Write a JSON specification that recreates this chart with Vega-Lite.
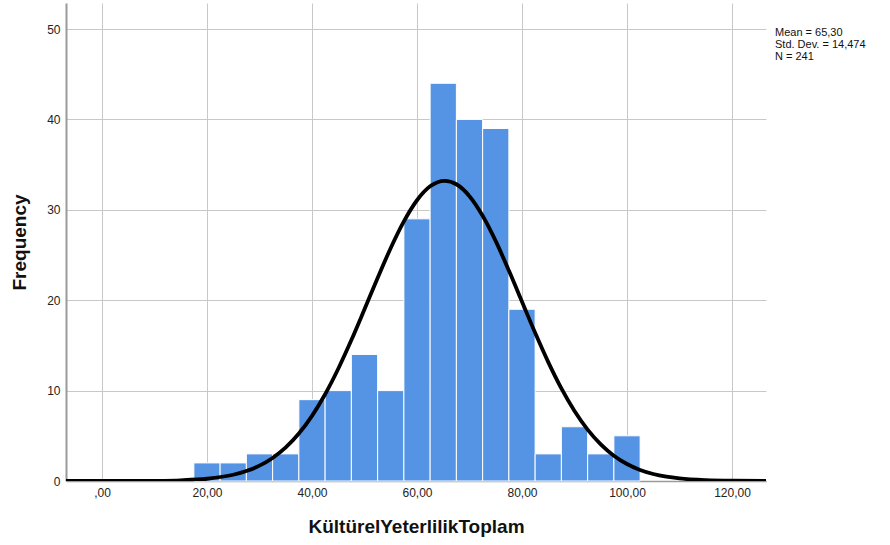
{
  "$schema": "https://vega.github.io/schema/vega-lite/v6.json",
  "width": 700,
  "height": 478,
  "autosize": {"type": "none"},
  "padding": {"left": 66, "top": 3, "right": 124, "bottom": 64},
  "background": "white",
  "config": {"view": {"stroke": null}, "font": "Liberation Sans"},
  "datasets": {
    "bins": [
      {"start": 17.5, "end": 22.5, "count": 2},
      {"start": 22.5, "end": 27.5, "count": 2},
      {"start": 27.5, "end": 32.5, "count": 3},
      {"start": 32.5, "end": 37.5, "count": 3},
      {"start": 37.5, "end": 42.5, "count": 9},
      {"start": 42.5, "end": 47.5, "count": 10},
      {"start": 47.5, "end": 52.5, "count": 14},
      {"start": 52.5, "end": 57.5, "count": 10},
      {"start": 57.5, "end": 62.5, "count": 29},
      {"start": 62.5, "end": 67.5, "count": 44},
      {"start": 67.5, "end": 72.5, "count": 40},
      {"start": 72.5, "end": 77.5, "count": 39},
      {"start": 77.5, "end": 82.5, "count": 19},
      {"start": 82.5, "end": 87.5, "count": 3},
      {"start": 87.5, "end": 92.5, "count": 6},
      {"start": 92.5, "end": 97.5, "count": 3},
      {"start": 97.5, "end": 102.5, "count": 5}
    ],
    "curve": [
      {"x": -6.86, "y": 0},
      {"x": 0, "y": 0.001},
      {"x": 5, "y": 0.006},
      {"x": 10, "y": 0.022},
      {"x": 15, "y": 0.079},
      {"x": 20, "y": 0.248},
      {"x": 25, "y": 0.689},
      {"x": 27.5, "y": 1.10},
      {"x": 30, "y": 1.697},
      {"x": 32.5, "y": 2.55},
      {"x": 35, "y": 3.713},
      {"x": 37.5, "y": 5.25},
      {"x": 40, "y": 7.21},
      {"x": 42.5, "y": 9.60},
      {"x": 45, "y": 12.42},
      {"x": 47.5, "y": 15.59},
      {"x": 50, "y": 19.00},
      {"x": 52.5, "y": 22.46},
      {"x": 55, "y": 25.78},
      {"x": 57.5, "y": 28.72},
      {"x": 60, "y": 31.06},
      {"x": 62.5, "y": 32.60},
      {"x": 65.3, "y": 33.21},
      {"x": 67.5, "y": 32.83},
      {"x": 70, "y": 31.51},
      {"x": 72.5, "y": 29.34},
      {"x": 75, "y": 26.53},
      {"x": 77.5, "y": 23.28},
      {"x": 80, "y": 19.83},
      {"x": 82.5, "y": 16.39},
      {"x": 85, "y": 13.15},
      {"x": 87.5, "y": 10.24},
      {"x": 90, "y": 7.74},
      {"x": 92.5, "y": 5.68},
      {"x": 95, "y": 4.05},
      {"x": 97.5, "y": 2.80},
      {"x": 100, "y": 1.876},
      {"x": 102.5, "y": 1.22},
      {"x": 105, "y": 0.772},
      {"x": 107.5, "y": 0.474},
      {"x": 110, "y": 0.282},
      {"x": 115, "y": 0.092},
      {"x": 120, "y": 0.026},
      {"x": 126.48, "y": 0.004}
    ],
    "stats": [
      {"label": ["Mean = 65,30", "Std. Dev. = 14,474", "N = 241"], "yv": 50}
    ]
  },
  "layer": [
    {
      "data": {"name": "bins"},
      "mark": {"type": "bar", "color": "#5594e4", "stroke": "white", "strokeWidth": 1},
      "encoding": {
        "x": {
          "field": "start",
          "type": "quantitative",
          "scale": {"domain": [-6.857, 126.476], "nice": false, "zero": false},
          "axis": {
            "values": [0, 20, 40, 60, 80, 100, 120],
            "labelExpr": "datum.value === 0 ? ',00' : replace(format(datum.value, '.2f'), '.', ',')",
            "grid": true,
            "gridColor": "#c8c8c8",
            "gridWidth": 1,
            "domainColor": "#9a9a9a",
            "domainWidth": 1.5,
            "ticks": false,
            "labelPadding": 6,
            "labelFontSize": 12,
            "labelColor": "#222222",
            "title": "KültürelYeterlilikToplam",
            "titleFontSize": 19,
            "titleFontWeight": "bold",
            "titleColor": "#111111",
            "titlePadding": 19
          }
        },
        "x2": {"field": "end"},
        "y": {
          "field": "count",
          "type": "quantitative",
          "scale": {"domain": [0, 52.88], "nice": false},
          "axis": {
            "values": [0, 10, 20, 30, 40, 50],
            "grid": true,
            "gridColor": "#c8c8c8",
            "gridWidth": 1,
            "domainColor": "#9a9a9a",
            "domainWidth": 2,
            "ticks": false,
            "labelPadding": 6,
            "labelFontSize": 12,
            "labelColor": "#222222",
            "title": "Frequency",
            "titleFontSize": 19,
            "titleFontWeight": "bold",
            "titleColor": "#111111",
            "titlePadding": 17
          }
        },
        "y2": {"datum": 0}
      }
    },
    {
      "data": {"name": "curve"},
      "mark": {"type": "line", "color": "black", "strokeWidth": 3.8, "interpolate": "monotone", "clip": true},
      "encoding": {
        "x": {"field": "x", "type": "quantitative"},
        "y": {"field": "y", "type": "quantitative"}
      }
    },
    {
      "data": {"name": "stats"},
      "mark": {"type": "text", "align": "left", "baseline": "top", "dx": 9, "dy": -2, "fontSize": 11, "lineHeight": 12, "color": "#111111"},
      "encoding": {
        "x": {"value": "width"},
        "y": {"field": "yv", "type": "quantitative"},
        "text": {"field": "label"}
      }
    }
  ]
}
